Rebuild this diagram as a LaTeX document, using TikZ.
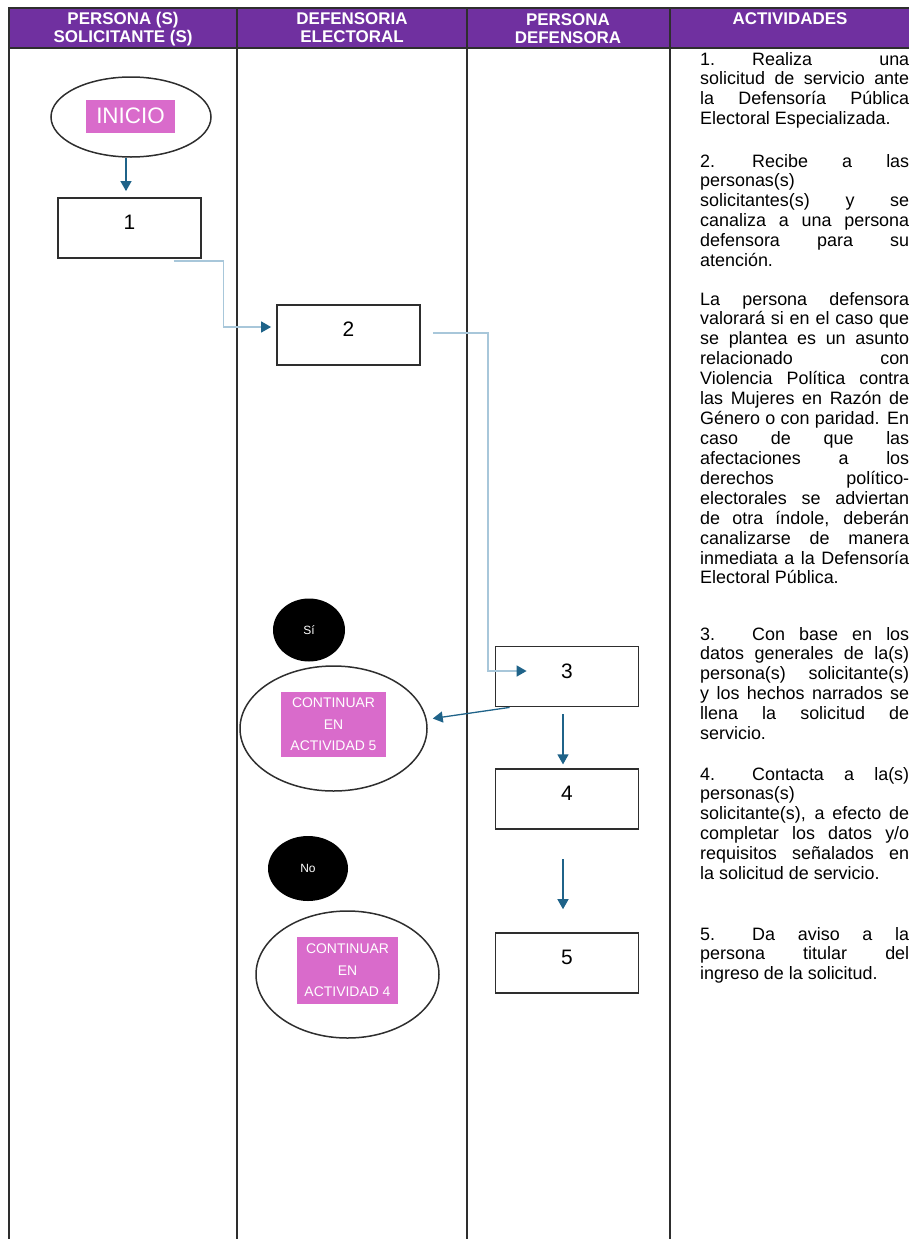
\documentclass[tikz,border=0pt]{standalone}
\usepackage{fontspec}
\setmainfont{Liberation Sans}
\usetikzlibrary{shapes.geometric,arrows.meta,positioning}

\definecolor{Morado}{HTML}{7030A0}
\definecolor{Rosa}{HTML}{D96BCB}
\definecolor{Azul}{HTML}{1F6389}
\definecolor{AzulClaro}{HTML}{A8C7DA}
\definecolor{Borde}{HTML}{2E2E2E}

\tikzset{
  encabezado/.style={anchor=north, align=center, text=white, inner sep=0pt, font=\bfseries\fontsize{17}{18.5}\selectfont},
  actividad/.style={anchor=base west, text width=209bp, inner sep=0pt, align=justify, font=\fontsize{18}{20}\selectfont\sloppy},
  caja/.style={draw=Borde, line width=1.8bp, minimum width=143bp, minimum height=60bp, inner sep=0pt, text height=15bp, text depth=12bp, font=\fontsize{21}{24}\selectfont},
  terminal/.style={ellipse, draw=Borde, line width=1.5bp, inner sep=0pt},
  etiqueta/.style={fill=Rosa, text=white, inner sep=0pt, align=center},
  decision/.style={ellipse, fill=black, text=white, inner sep=0pt, font=\fontsize{12}{14}\selectfont},
  flecha/.style={draw=Azul, line width=1.3bp, -{Triangle[length=10bp,width=11bp]}},
  conector/.style={draw=AzulClaro, line width=1.6bp, -{Triangle[length=10bp,width=11bp,color=Azul]}}
}

\begin{document}
\begin{tikzpicture}[x=1bp,y=-1bp]
\useasboundingbox (0,0) rectangle (909,1239);
\fill[Morado] (8,8) rectangle (909,48);
\draw[Borde, line width=1.8bp] (8,8) -- (909,8) (8,48) -- (909,48);
\foreach \x in {9,237,467,670}
  \draw[Borde, line width=1.8bp] (\x,8) -- (\x,1239);

\node[encabezado] (h1) at (123,12) {PERSONA (S)\\SOLICITANTE (S)};
\node[encabezado] (h2) at (352,12) {DEFENSORIA\\ELECTORAL};
\node[encabezado] (h3) at (568,13) {PERSONA\\DEFENSORA};
\node[encabezado] (h4) at (790,12) {ACTIVIDADES};

\node[terminal, minimum width=160bp, minimum height=80bp] (inicio) at (131,117) {};
\node[etiqueta, minimum width=89bp, minimum height=33bp, font=\fontsize{22.5}{24}\selectfont] (inicioTxt) at (130.5,116) {INICIO};

\node[caja] (n1) at (129.5,228) {1};
\node[caja] (n2) at (348.5,335) {2};
\node[caja] (n3) at (567,676.5) {3};
\node[caja, below=61bp of n3] (n4) {4};
\node[caja, below=102bp of n4] (n5) {5};

\node[decision, minimum width=72bp, minimum height=63bp] (si) at (309,630) {Sí};
\node[terminal, minimum width=187bp, minimum height=125bp] (cont5) at (333.5,728.5) {};
\node[etiqueta, minimum width=105bp, minimum height=65bp, font=\fontsize{14}{21.5}\selectfont] (cont5Txt) at (333.5,724.5) {CONTINUAR\\EN\\ACTIVIDAD 5};
\node[decision, minimum width=80bp, minimum height=65bp] (no) at (308,868.5) {No};
\node[terminal, minimum width=183bp, minimum height=127bp] (cont4) at (347.5,974.5) {};
\node[etiqueta, minimum width=101bp, minimum height=67bp, font=\fontsize{14}{21.5}\selectfont] (cont4Txt) at (347.5,970.5) {CONTINUAR\\EN\\ACTIVIDAD 4};

\draw[flecha] ([xshift=-5bp]inicio.south) -- ([xshift=-5bp,yshift=6bp]inicio.south |- n1.north);
\draw[conector] ([xshift=44bp,yshift=-2bp]n1.south) -- ++(50,0) |- ([xshift=-5bp,yshift=8bp]n2.west);
\draw[conector] ([xshift=12bp,yshift=2bp]n2.east) -- ++(55,0) |- ([xshift=32bp,yshift=5.5bp]n3.west);
\draw[flecha] ([xshift=15bp]n3.south west) -- ([xshift=5bp,yshift=10bp]cont5.east);
\draw[flecha] ([xshift=-4bp,yshift=-7bp]n3.south) -- ([xshift=-4bp,yshift=4bp]n4.north);
\draw[flecha] ([xshift=-4bp,yshift=-29bp]n4.south) -- ([xshift=-4bp,yshift=23bp]n5.north);

\node[actividad] (act1) at (700,65) {\makebox[52bp][l]{1.}Realiza una\linebreak
solicitud de servicio ante\linebreak
la Defensoría Pública\linebreak
Electoral Especializada.};
\node[actividad] (act2) at (700,167) {\makebox[52bp][l]{2.}Recibe a las\linebreak
personas(s)\hfil\break
solicitantes(s) y se\linebreak
canaliza a una persona\linebreak
defensora para su\linebreak
atención.};
\node[actividad] (act2b) at (700,305) {La persona defensora\linebreak
valorará si en el caso que\linebreak
se plantea es un asunto\linebreak
relacionado con\linebreak
Violencia Política contra\linebreak
las Mujeres en Razón de\linebreak
Género o con paridad. En\linebreak
caso de que las\linebreak
afectaciones a los\linebreak
derechos político-\linebreak
electorales se adviertan\linebreak
de otra índole, deberán\linebreak
canalizarse de manera\linebreak
inmediata a la Defensoría\linebreak
Electoral Pública.};
\node[actividad] (act3) at (700,640) {\makebox[52bp][l]{3.}Con base en los\linebreak
datos generales de la(s)\linebreak
persona(s) solicitante(s)\linebreak
y los hechos narrados se\linebreak
llena la solicitud de\linebreak
servicio.};
\node[actividad] (act4) at (700,780) {\makebox[52bp][l]{4.}Contacta a la(s)\linebreak
personas(s)\hfil\break
solicitante(s), a efecto de\linebreak
completar los datos y/o\linebreak
requisitos señalados en\linebreak
la solicitud de servicio.};
\node[actividad] (act5) at (700,940) {\makebox[52bp][l]{5.}Da aviso a la\linebreak
persona titular del\linebreak
ingreso de la solicitud.};
\end{tikzpicture}
\end{document}
